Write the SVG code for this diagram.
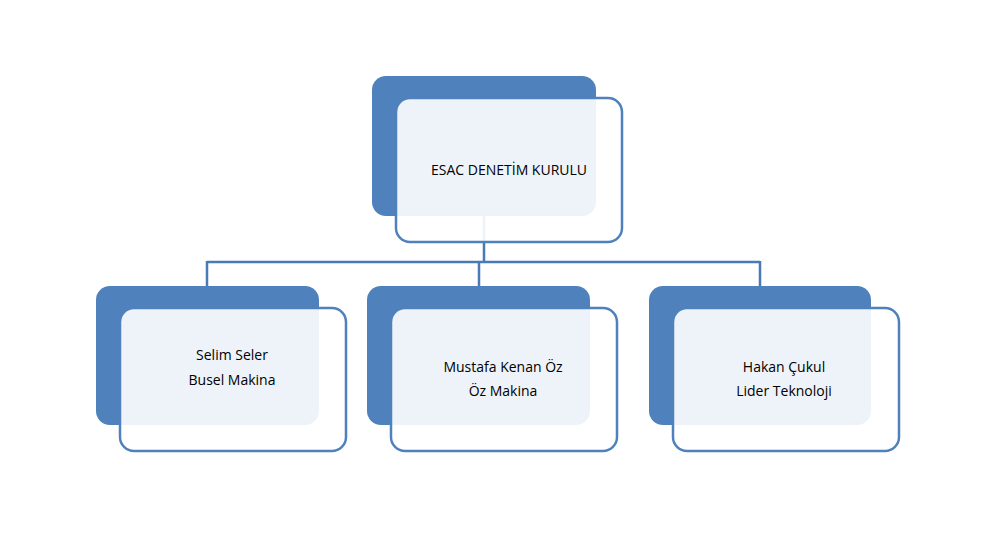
<svg xmlns="http://www.w3.org/2000/svg" width="1004" height="537" viewBox="0 0 1004 537">
<style>
.back{fill:#4F81BD;}
.front{fill:#FFFFFF;fill-opacity:0.9;stroke:#4F81BD;stroke-width:2.5;}
.conn{stroke:#4A7AB5;stroke-width:2.5;fill:none;}
.t{font-family:"Open Sans","Liberation Sans",sans-serif;font-size:14px;fill:#000;text-anchor:middle;}
</style>
<rect width="1004" height="537" fill="#FFFFFF"/>
<g id="connectors">
<path class="conn" d="M484 216 V262 M207 262 H760 M207 261 V288 M479 262 V288 M760 261 V288"/>
</g>
<g id="node-top">
<rect class="back" x="372" y="76" width="224" height="140" rx="14"/>
<rect class="front" x="396" y="98" width="226" height="144" rx="14"/>
<text class="t" x="509" y="175">ESAC DENETİM KURULU</text>
</g>
<g id="node-selim">
<rect class="back" x="96" y="286" width="223" height="139" rx="14"/>
<rect class="front" x="120" y="308" width="226" height="143" rx="14"/>
<text class="t" x="232" y="360">Selim Seler</text>
<text class="t" x="232" y="385">Busel Makina</text>
</g>
<g id="node-mustafa">
<rect class="back" x="367" y="286" width="223" height="139" rx="14"/>
<rect class="front" x="391" y="308" width="226" height="143" rx="14"/>
<text class="t" x="503" y="372">Mustafa Kenan Öz</text>
<text class="t" x="503" y="396">Öz Makina</text>
</g>
<g id="node-hakan">
<rect class="back" x="649" y="286" width="222" height="139" rx="14"/>
<rect class="front" x="673" y="308" width="226" height="143" rx="14"/>
<text class="t" x="784" y="372">Hakan Çukul</text>
<text class="t" x="784" y="396">Lider Teknoloji</text>
</g>
</svg>
